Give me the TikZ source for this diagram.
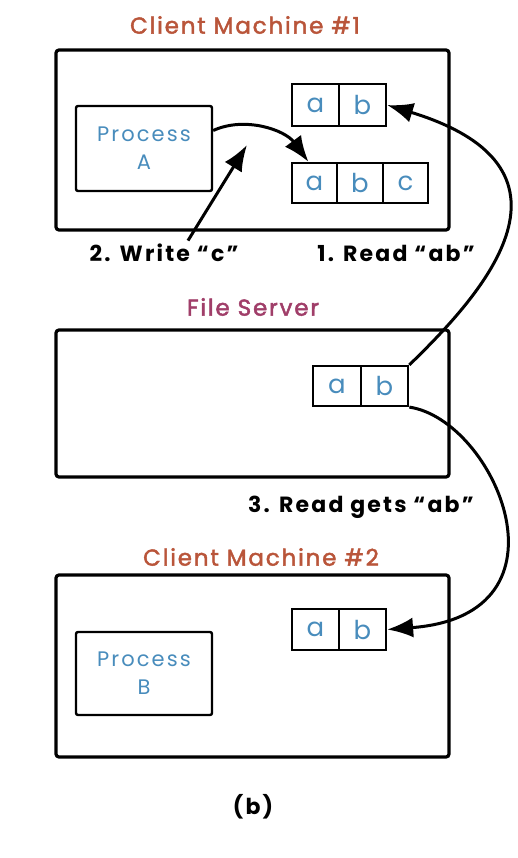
\documentclass[tikz,border=0pt]{standalone}
\usepackage{fontspec}
\setmainfont{Poppins}
\newfontfamily\gothic[LetterSpace=10]{Poppins}
\newfontfamily\gothicheavy[LetterSpace=8,FakeBold=2]{Poppins}
\usepackage{xcolor}
\usetikzlibrary{arrows.meta}

\definecolor{titlered}{RGB}{185,85,58}
\definecolor{serverpurple}{RGB}{160,62,105}
\definecolor{fileblue}{RGB}{72,140,188}

\begin{document}
\begin{tikzpicture}[x=1pt,y=-1pt,
    machine/.style={draw,line width=3.2pt,rounded corners=3pt,inner sep=0pt,minimum width=393pt},
    procbox/.style={draw,line width=2.4pt,rounded corners=2pt,minimum width=136pt,align=center,text=fileblue,font=\gothic\fontsize{21}{28}\selectfont},
    cell/.style={draw,line width=2.2pt,minimum width=47pt,minimum height=41pt,inner sep=0pt,text=fileblue,font=\fontsize{26}{26}\selectfont},
    heading/.style={font=\gothicheavy\fontsize{23}{26}\selectfont},
    steplabel/.style={font=\gothic\fontsize{22}{26}\selectfont\bfseries},
    bigarrow/.style={line width=3pt,-{Latex[length=26pt,width=20pt]}}]

    \useasboundingbox (0,0) rectangle (518,858);

    % Client machine 1
    \node[heading,titlered] (t1) at (245,25) {Client Machine \#1};
    \node[machine,minimum height=180pt] (cm1) at (252.5,140) {};
    \node[procbox,minimum height=85pt] (pa) at (144,148.5) {Process\\A};

    % cached copy before the write
    \node[cell,minimum height=42pt] (c1a) at (315.5,105) {a};
    \node[cell,minimum height=42pt] (c1b) at (362.5,105) {b};

    % cached copy after the write
    \node[cell,minimum width=45.5pt,minimum height=40pt] (c1xa) at (314.5,183) {a};
    \node[cell,minimum width=45.5pt,minimum height=40pt] (c1xb) at (360,183) {b};
    \node[cell,minimum width=45.5pt,minimum height=40pt] (c1xc) at (405.5,183) {c};

    \node[steplabel] (w2) at (164,253) {2. Write “c”};
    \node[steplabel] (r1) at (396,253) {1. Read “ab”};
    \coordinate (wtip) at (247,145);

    % File server
    \node[heading,serverpurple] (t2) at (253,307) {File Server};
    \node[machine,minimum height=147pt] (fs) at (252.5,403.5) {};
    \node[cell,minimum width=47.5pt,minimum height=40pt] (fsa) at (337,386) {a};
    \node[cell,minimum width=47.5pt,minimum height=40pt] (fsb) at (384.5,386) {b};

    \node[steplabel] (r3) at (361,507) {3. Read gets “ab”};

    % Client machine 2
    \node[heading,titlered] (t3) at (261,557) {Client Machine \#2};
    \node[machine,minimum height=182pt] (cm2) at (252.5,666) {};
    \node[procbox,minimum height=83pt] (pb) at (144,673.5) {Process\\B};
    \node[cell] (c2a) at (315.5,629.5) {a};
    \node[cell] (c2b) at (362.5,629.5) {b};

    \node[steplabel] (cap) at (253,807) {(b)};

    % Arrows
    \draw[bigarrow] ([yshift=18pt]pa.east) .. controls (245,116) and (285,130) .. ([xshift=-6pt]c1xa.north);
    \draw[bigarrow] ([xshift=24pt]w2.north) -- (wtip);
    \draw[bigarrow] (fsb.north east) .. controls (476,300) and (600,170) .. (c1b.east);
    \draw[bigarrow] (fsb.south east) .. controls (495,420) and (580,615) .. (c2b.east);
\end{tikzpicture}
\end{document}
